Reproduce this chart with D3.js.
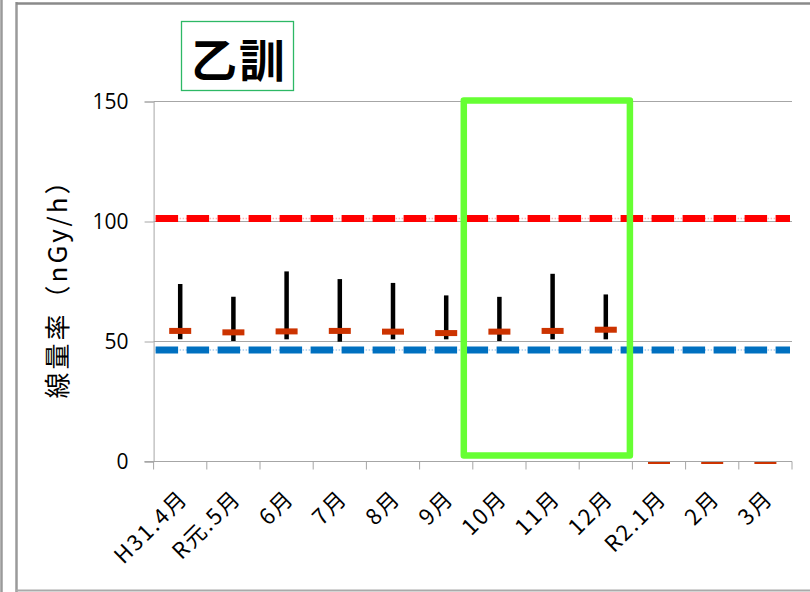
<!DOCTYPE html>
<html><head><meta charset="utf-8">
<script src="https://cdn.jsdelivr.net/npm/d3@7"></script>
<style>
html,body{margin:0;padding:0;background:#fff;}
svg{display:block;}
</style></head>
<body>
<svg id="c" width="810" height="592"></svg>
<script>
const categories = ["H31.4月","R元.5月","6月","7月","8月","9月","10月","11月","12月","R2.1月","2月","3月"];
const maxVals  = [73.7, 68.4, 79.0, 75.8, 74.2, 69.0, 68.4, 78.0, 69.4, null, null, null];
const minVals  = [50.7, 50.0, 50.7, 49.7, 50.7, 50.7, 50.0, 50.7, 50.7, null, null, null];
const meanVals = [54.2, 53.6, 54.0, 54.2, 53.9, 53.3, 53.9, 54.2, 54.7, 0, 0, 0];
const investigationLevel = 101;
const baselineLevel = 46.3;
const yTicks = [0, 50, 100, 150];
const highlight = ["10月", "12月"];
const title = "乙訓";
const yTitle = "線量率（nGy/h）";

const svg = d3.select("#c");
const L = 153.6, R = 792, T = 101, B = 461;

// outer frame
svg.append("line").attr("x1",1.5).attr("x2",1.5).attr("y1",0).attr("y2",592).attr("stroke","#9a9a9a").attr("stroke-width",2.5);
svg.append("line").attr("x1",16.5).attr("x2",16.5).attr("y1",2).attr("y2",592).attr("stroke","#9a9a9a").attr("stroke-width",2.5);
svg.append("line").attr("x1",16).attr("x2",810).attr("y1",3.5).attr("y2",3.5).attr("stroke","#8a8a8a").attr("stroke-width",2.5);
svg.append("line").attr("x1",16).attr("x2",810).attr("y1",590.5).attr("y2",590.5).attr("stroke","#aaaaaa").attr("stroke-width",2);

const x = d3.scaleBand().domain(categories).range([L, R]).padding(0);
const y = d3.scaleLinear().domain([0,150]).range([B, T]);

// gridlines
svg.append("g").selectAll("line").data(yTicks.filter(d=>d>0)).join("line")
  .attr("x1",L).attr("x2",R).attr("y1",d=>y(d)+0.5).attr("y2",d=>y(d)+0.5)
  .attr("stroke","#a6a6a6").attr("stroke-width",1);

// y axis
const yAxis = d3.axisLeft(y).tickValues(yTicks).tickSize(9).tickPadding(16).tickFormat(d3.format("d"));
const gy = svg.append("g").attr("transform",`translate(${L},0.5)`).call(yAxis);
gy.select(".domain").attr("stroke","#a6a6a6");
gy.selectAll(".tick line").attr("stroke","#a6a6a6");
gy.selectAll("text").attr("font-family","'Open Sans','DejaVu Sans',sans-serif").attr("font-size",21).attr("fill","#000");

// y title
svg.append("text").attr("transform","translate(67,282) rotate(-90)")
  .attr("text-anchor","middle").attr("font-family","'Noto Sans CJK JP',sans-serif")
  .attr("font-size",26).attr("letter-spacing",3).attr("fill","#000").text(yTitle);

// reference lines (faint connector + dashes)
function refLine(v, color, faint){
  svg.append("line").attr("x1",L+2).attr("x2",R-2).attr("y1",y(v)).attr("y2",y(v))
    .attr("stroke",faint).attr("stroke-width",1.5).attr("stroke-dasharray","1.5,1.5");
  svg.append("line").attr("x1",L+2).attr("x2",R-2).attr("y1",y(v)).attr("y2",y(v))
    .attr("stroke",color).attr("stroke-width",7).attr("stroke-dasharray","22.5,8.5");
}
refLine(investigationLevel, "#ff0000", "#ffb3b3");
refLine(baselineLevel, "#0070c0", "#a9cdee");

// clips
const defs = svg.append("defs");
defs.append("clipPath").attr("id","pc").append("rect").attr("x",L).attr("y",T-10).attr("width",R-L).attr("height",B-T+13);
const mc = defs.append("clipPath").attr("id","mc");
mc.append("rect").attr("x",L).attr("y",T-10).attr("width",R-L).attr("height",B-T+6);
mc.append("rect").attr("x",L).attr("y",B).attr("width",R-L).attr("height",3);

const idx = d3.range(categories.length);
// whiskers
svg.append("g").attr("clip-path","url(#pc)").selectAll(".wh").data(idx.filter(i=>maxVals[i]!=null)).join("line").attr("class","wh")
  .attr("x1",i=>x(categories[i])+x.bandwidth()/2).attr("x2",i=>x(categories[i])+x.bandwidth()/2)
  .attr("y1",i=>y(maxVals[i])).attr("y2",i=>y(minVals[i]))
  .attr("stroke","#000").attr("stroke-width",4.5);
// means
svg.append("g").attr("clip-path","url(#mc)").selectAll(".mn").data(idx).join("rect").attr("class","mn")
  .attr("x",i=>x(categories[i])+x.bandwidth()/2-11).attr("width",22)
  .attr("y",i=>y(meanVals[i])-3).attr("height",6)
  .attr("fill","#cc3300");

// x axis
const gx = svg.append("g").attr("transform",`translate(0,${B+0.5})`);
gx.append("line").attr("x1",L-9).attr("x2",R).attr("stroke","#a6a6a6");
const bounds = d3.range(categories.length+1).map(i => L + i*x.bandwidth());
gx.selectAll(".tk").data(bounds).join("line").attr("class","tk")
  .attr("x1",d=>d).attr("x2",d=>d).attr("y1",0).attr("y2",8).attr("stroke","#a6a6a6");
gx.selectAll(".lbl").data(categories).join("text").attr("class","lbl")
  .attr("transform",d=>`translate(${x(d)+x.bandwidth()/2+9},${38}) rotate(-45)`)
  .attr("text-anchor","end")
  .attr("font-family","'Noto Sans CJK JP',sans-serif")
  .attr("font-size",22).attr("letter-spacing",2).attr("fill","#000").text(d=>d);

// highlight box
const hx0 = x(highlight[0]) - 9, hx1 = x(highlight[1]) + x.bandwidth() - 2.5;
svg.append("rect").attr("x",hx0).attr("y",y(150)-0.5).attr("width",hx1-hx0).attr("height",y(2.3)-y(150)+0.5)
  .attr("fill","none").attr("stroke","#66ff33").attr("stroke-width",6.5).attr("stroke-linejoin","round");

// title box
svg.append("rect").attr("x",181.5).attr("y",21.5).attr("width",112).attr("height",69)
  .attr("fill","#fff").attr("stroke","#2db865").attr("stroke-width",1.3);
svg.append("text").attr("x",239).attr("y",77).attr("text-anchor","middle")
  .attr("font-family","'Noto Sans CJK JP',sans-serif").attr("font-weight","bold")
  .attr("font-size",46).attr("letter-spacing",2).attr("fill","#000").text(title);
</script>
</body></html>
